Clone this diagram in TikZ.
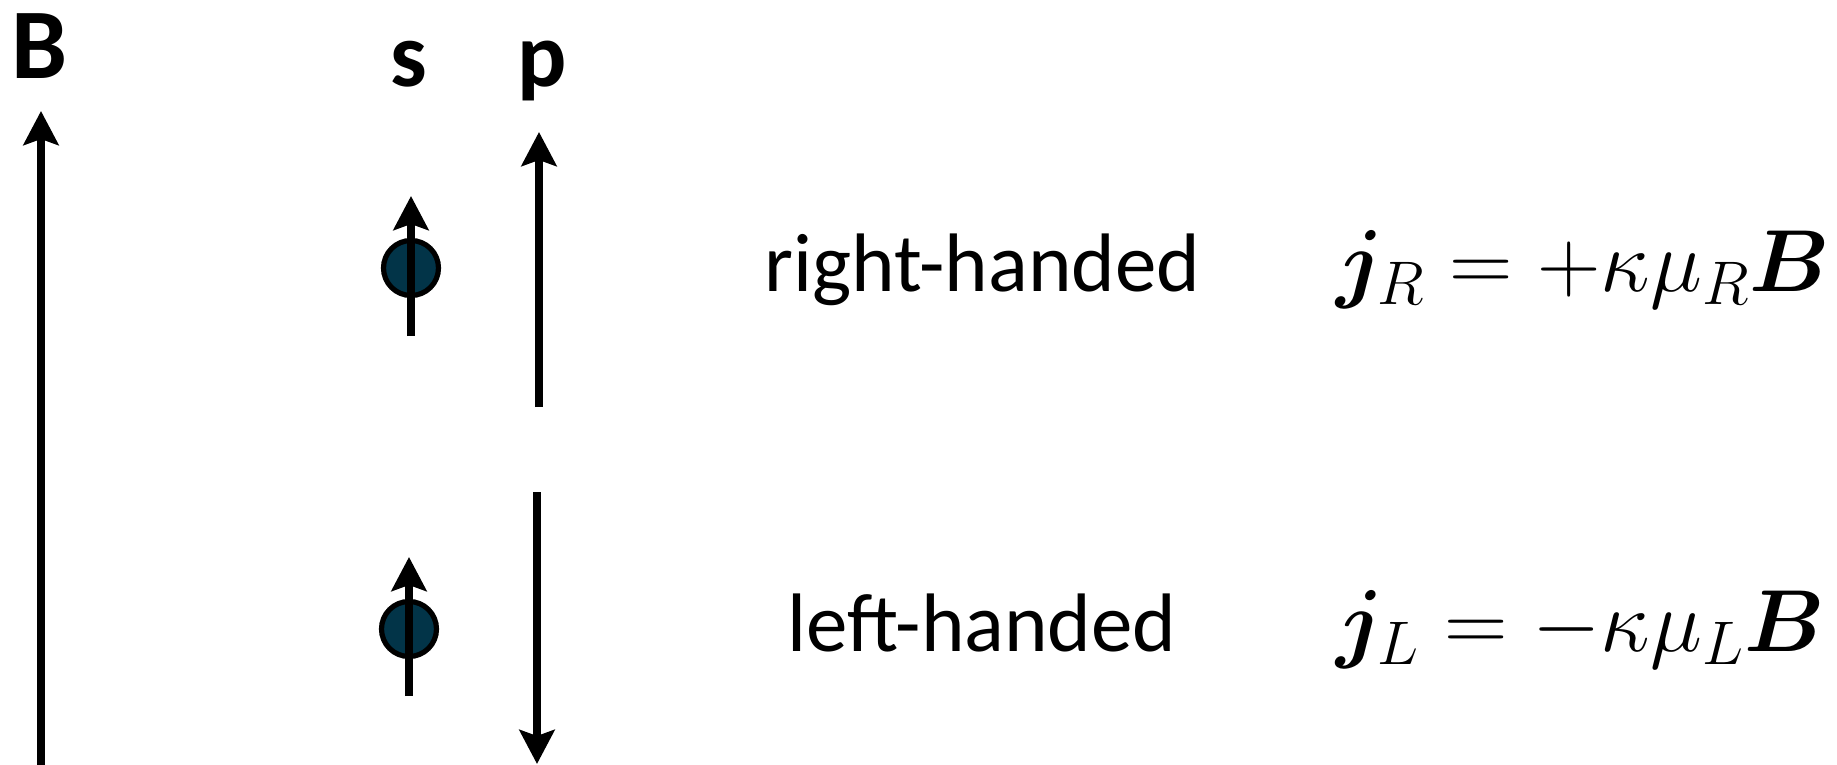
\documentclass[tikz,border=0pt]{standalone}
\usepackage{fix-cm}
\usepackage{amsmath,bm}
\usepackage{fontspec}
\newfontfamily\gill{Carlito}
\usetikzlibrary{arrows.meta}
\definecolor{spinfill}{RGB}{2,52,72}
\tikzset{
  arr/.style={line width=3.6pt,-{Stealth[length=17pt,width=17.5pt,inset=3pt]}},
  spinball/.style={circle,draw=black,line width=2.6pt,fill=spinfill,minimum size=27.5pt,inner sep=0pt},
  lab/.style={inner sep=0pt,anchor=base,font=\gill\bfseries\fontsize{46}{50}\selectfont},
  hand/.style={inner sep=0pt,anchor=base west,font=\gill\fontsize{41.5}{46}\selectfont},
  eq/.style={inner sep=0pt,anchor=base west,font=\fontsize{44}{48}\selectfont},
}
\begin{document}
\begin{tikzpicture}[x=0.5pt,y=-0.5pt]
\useasboundingbox (0,0) rectangle (1837,765);
% B field
\node[lab,font=\gill\bfseries\fontsize{50}{54}\selectfont] (Blab) at (40,79) {B};
\coordinate (B0) at (41,770);
\coordinate (B1) at (41,111);
\draw[arr] (B0) -- (B1);
% labels s, p
\node[lab] (slab) at (409,87) {s};
\node[lab] (plab) at (542,87) {p};
% upper spin
\node[spinball] (ball1) at (411,268) {};
\coordinate (s1a) at (411,336);
\coordinate (s1b) at (411,196);
\draw[arr] (s1a) -- (s1b);
% upper momentum
\coordinate (p1a) at (539,407);
\coordinate (p1b) at (539,132);
\draw[arr] (p1a) -- (p1b);
% lower spin
\node[spinball] (ball2) at (409,629) {};
\coordinate (s2a) at (409,696);
\coordinate (s2b) at (409,557);
\draw[arr] (s2a) -- (s2b);
% lower momentum
\coordinate (p2a) at (537,492);
\coordinate (p2b) at (537,764);
\draw[arr] (p2a) -- (p2b);
% texts
\node[hand] (rh) at (764,291) {right-handed};
\node[hand] (lh) at (787,651) {left-handed};
\node[eq] (eqR) at (1336,291) {$\bm{j}_R = +\kappa\mu_R\bm{B}$};
\node[eq] (eqL) at (1336,651) {$\bm{j}_L = -\kappa\mu_L\bm{B}$};
\end{tikzpicture}
\end{document}
